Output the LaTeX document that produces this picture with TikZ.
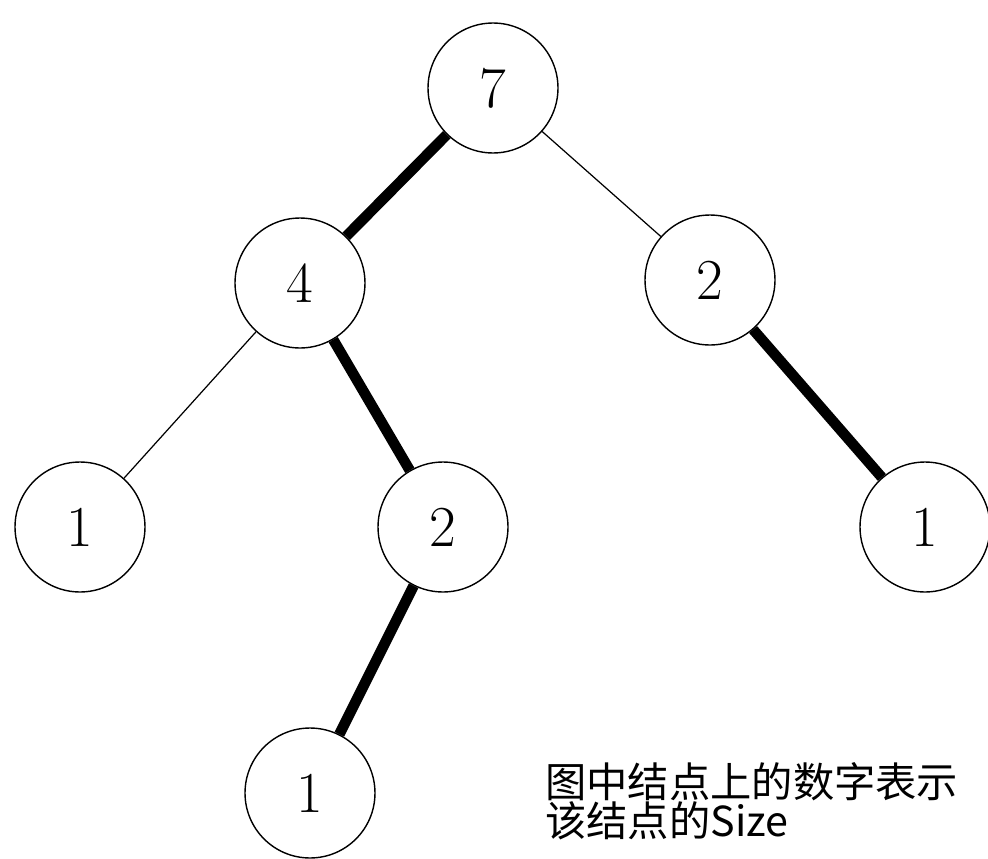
\documentclass[tikz,border=0pt]{standalone}
\usepackage{fontspec}
\newfontfamily\cjk{Noto Sans CJK SC}
\begin{document}
\begin{tikzpicture}[x=0.02cm, y=-0.02cm,
    tnode/.style = {draw, circle, minimum size=2.6cm, inner sep=0pt, line width=0.8pt,
                    font=\fontsize{33}{36}\selectfont},
    thin edge/.style = {line width=0.7pt},
    thick edge/.style = {line width=6pt}]
      \useasboundingbox (0, 0) rectangle (988, 859);
      \node [tnode] (n7) at (493, 88) {7};
      \node [tnode] (n4) at (300, 283) {4};
      \node [tnode] (n2r) at (710, 280) {2};
      \node [tnode] (n1l) at (80, 527) {1};
      \node [tnode] (n2m) at (443, 527) {2};
      \node [tnode] (n1r) at (925, 527) {1};
      \node [tnode] (n1b) at (310, 793) {1};
      \draw [thick edge] (n7) -- (n4);
      \draw [thin edge] (n7) -- (n2r);
      \draw [thin edge] (n4) -- (n1l);
      \draw [thick edge] (n4) -- (n2m);
      \draw [thick edge] (n2m) -- (n1b);
      \draw [thick edge] (n2r) -- (n1r);
      \node [anchor = north west, align = left, inner sep = 0pt,
             font = \cjk\fontsize{23.5}{22.5}\selectfont] (note) at (545, 762)
            {图中结点上的数字表示\\该结点的Size};
    \end{tikzpicture}
\end{document}
